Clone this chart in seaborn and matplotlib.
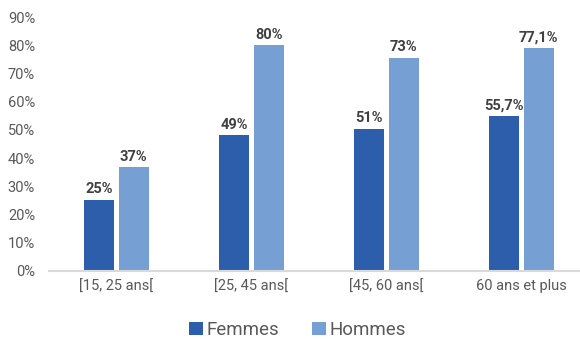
import matplotlib
matplotlib.use("Agg")
import matplotlib.pyplot as plt
import seaborn as sns
import pandas as pd

categories = ["[15, 25 ans[", "[25, 45 ans[", "[45, 60 ans[", "60 ans et plus"]
series = ["Femmes", "Hommes"]
femmes = [0.253, 0.482, 0.504, 0.549]
hommes = [0.368, 0.801, 0.756, 0.789]
femmes_labels = ["25%", "49%", "51%", "55,7%"]
hommes_labels = ["37%", "80%", "73%", "77,1%"]
yticks = [0, 0.1, 0.2, 0.3, 0.4, 0.5, 0.6, 0.7, 0.8, 0.9]
ytick_labels = ["0%", "10%", "20%", "30%", "40%", "50%", "60%", "70%", "80%", "90%"]
colors = ["#2C5EAB", "#769FD3"]

df = pd.DataFrame({
    "cat": categories * 2,
    "serie": [series[0]] * 4 + [series[1]] * 4,
    "val": femmes + hommes,
})

sns.set_theme(style="white")
plt.rcParams["font.family"] = ["Roboto", "DejaVu Sans"]

fig = plt.figure(figsize=(5.8, 3.39), dpi=100)
ax = fig.add_axes([0.0845, 0.2006, 0.931, 0.749])

sns.barplot(data=df, x="cat", y="val", hue="serie", order=categories,
            hue_order=series, palette=colors, width=0.511, gap=0.13,
            saturation=1, ax=ax, legend=True, linewidth=0)

for cont, labs in zip(ax.containers, [femmes_labels, hommes_labels]):
    ax.bar_label(cont, labels=labs, padding=2.5, fontsize=10.5,
                 fontweight="bold", color="#404040")

ax.set_ylim(0, 0.9)
ax.set_xlim(-0.5, 3.5)
ax.set_yticks(yticks)
ax.set_yticklabels(ytick_labels)
ax.set_xlabel("")
ax.set_ylabel("")
ax.tick_params(axis="y", length=0, pad=10, labelsize=10.5, labelcolor="#595959")
ax.tick_params(axis="x", length=0, pad=6, labelsize=10.5, labelcolor="#595959")
for s in ["top", "right", "left"]:
    ax.spines[s].set_visible(False)
ax.spines["bottom"].set_color("#D9D9D9")
ax.spines["bottom"].set_linewidth(1.5)

handles, labels = ax.get_legend_handles_labels()
ax.get_legend().remove()
fig.legend(handles, labels, loc="lower center", bbox_to_anchor=(0.513, -0.05),
           ncol=2, frameon=False, fontsize=13.5, handlelength=0.75,
           handleheight=0.75, handletextpad=0.2, columnspacing=1.75,
           labelcolor="#595959")

fig.savefig("out.png", dpi=100)
